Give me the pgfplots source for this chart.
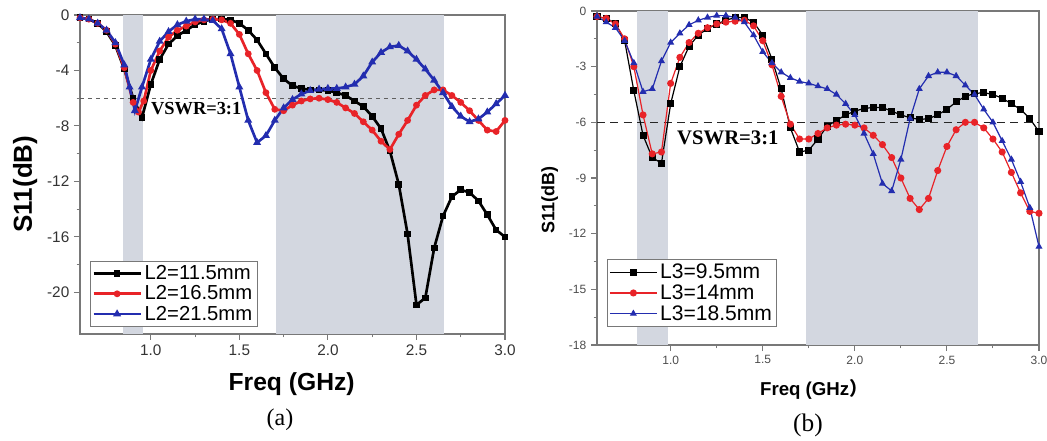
\documentclass[border=0pt]{standalone}
\usepackage{fontspec}
\setmainfont{Liberation Sans}
\newfontfamily\tnr{Liberation Serif}
\newfontfamily\cjk{Noto Sans CJK SC}
\usepackage{pgfplots}
\pgfplotsset{compat=1.18}

\definecolor{band}{RGB}{211,215,224}
\definecolor{cred}{RGB}{232,35,40}
\definecolor{cblue}{RGB}{35,45,175}
\definecolor{axgray}{RGB}{120,120,120}

\pgfplotsset{
  s11/.style={
    scale only axis, xmin=0.6, xmax=3.0,
    axis line style={axgray, line width=0.9pt},
    tick pos=left, tick align=outside,
    major tick length=4.5pt, minor tick length=2.5pt,
    every tick/.style={axgray, line width=0.8pt},
    xtick={1.0,1.5,2.0,2.5,3.0}, minor x tick num=1, minor y tick num=1,
    xticklabel style={/pgf/number format/.cd, fixed, fixed zerofill, precision=1},
    /pgf/number format/assume math mode=true,
    legend cell align=left,
    legend image code/.code={\draw[mark repeat=2,mark phase=2] plot coordinates {(0cm,0cm)(0.62cm,0cm)(1.24cm,0cm)};},
  },
}

\begin{document}
\begin{tikzpicture}
\useasboundingbox (0,0) rectangle (785.25pt,-330.75pt);

% (a)
\begin{axis}[s11,
  at={(60pt,-250.5pt)}, anchor=south west,
  width=318.75pt, height=239.25pt,
  ymin=-23, ymax=0, ytick={-20,-16,-12,-8,-4,0},
  tick label style={font=\fontsize{11.5}{13}\selectfont, color=black!80},
  xlabel={\bfseries Freq (GHz)}, ylabel={\bfseries S11(dB)},
  xlabel style={font=\fontsize{18.5}{20}\selectfont, at={(axis description cs:0.498,-0.157)}, anchor=center},
  ylabel style={font=\fontsize{19.5}{21}\selectfont, at={(axis description cs:-0.129,0.47)}, anchor=center},
  legend style={at={(axis description cs:0.0235,0.022)}, anchor=south west, draw=axgray, fill=white,
    font=\fontsize{15.2}{17}\selectfont, inner sep=1.5pt, row sep=-1pt},
  every axis plot/.append style={line width=2pt, mark size=1.5pt, mark options={solid}},
]
\fill[band] (axis cs:0.84,-23) rectangle (axis cs:0.955,0);
\fill[band] (axis cs:1.705,-23) rectangle (axis cs:2.653,0);
\draw[axgray!80!black, dashed, line width=0.9pt] (axis cs:0.6,-6) -- (axis cs:3.0,-6);
\node[anchor=west, font=\tnr\bfseries\fontsize{13.8}{15}\selectfont, inner sep=0pt] at (axis cs:1.0,-6.75) {VSWR=3:1};

\addplot[black, mark=square*] coordinates {
(0.60,-0.2)(0.65,-0.3)(0.70,-0.6)(0.75,-1.2)(0.80,-2.2)(0.85,-3.9)(0.90,-6.0)(0.95,-7.4)
(1.00,-5.0)(1.05,-3.2)(1.10,-2.1)(1.15,-1.5)(1.20,-1.1)(1.25,-0.7)(1.30,-0.45)(1.35,-0.3)
(1.40,-0.3)(1.45,-0.35)(1.50,-0.6)(1.55,-1.1)(1.60,-1.8)(1.65,-2.8)(1.70,-3.8)(1.75,-4.6)
(1.80,-5.1)(1.85,-5.3)(1.90,-5.4)(1.95,-5.4)(2.00,-5.45)(2.05,-5.6)(2.10,-5.8)(2.15,-6.2)
(2.20,-6.6)(2.25,-7.3)(2.30,-8.2)(2.35,-9.8)(2.40,-12.2)(2.45,-15.8)(2.50,-20.9)(2.55,-20.4)
(2.60,-16.8)(2.65,-14.5)(2.70,-13.1)(2.75,-12.6)(2.80,-12.8)(2.85,-13.4)(2.90,-14.4)(2.95,-15.5)(3.00,-16.0)};
\addlegendentry{L2=11.5mm}
\addplot[cred, mark=*] coordinates {
(0.60,-0.2)(0.65,-0.3)(0.70,-0.6)(0.75,-1.1)(0.80,-2.1)(0.85,-3.8)(0.90,-6.3)(0.93,-7.0)
(0.96,-6.2)(1.00,-4.0)(1.05,-2.6)(1.10,-1.6)(1.15,-1.1)(1.20,-0.8)(1.25,-0.5)(1.30,-0.35)
(1.35,-0.3)(1.40,-0.35)(1.45,-0.6)(1.50,-1.4)(1.55,-2.8)(1.60,-4.0)(1.65,-5.6)(1.70,-6.8)
(1.75,-6.9)(1.80,-6.5)(1.85,-6.2)(1.90,-6.05)(1.95,-6.0)(2.00,-6.1)(2.05,-6.3)(2.10,-6.7)
(2.15,-7.1)(2.20,-7.7)(2.25,-8.3)(2.30,-9.1)(2.35,-9.7)(2.40,-8.6)(2.45,-7.6)(2.50,-6.5)
(2.55,-5.8)(2.60,-5.4)(2.65,-5.4)(2.70,-5.8)(2.75,-6.3)(2.80,-6.9)(2.85,-7.6)(2.90,-8.3)(2.95,-8.4)(3.00,-7.6)};
\addlegendentry{L2=16.5mm}
\addplot[cblue, mark=triangle*] coordinates {
(0.60,-0.2)(0.65,-0.3)(0.70,-0.6)(0.75,-1.1)(0.80,-2.0)(0.85,-3.6)(0.88,-5.2)(0.91,-6.9)
(0.95,-5.2)(1.00,-3.2)(1.05,-1.9)(1.10,-1.2)(1.15,-0.7)(1.20,-0.45)(1.25,-0.3)(1.30,-0.3)
(1.35,-0.4)(1.40,-1.0)(1.45,-2.8)(1.50,-5.2)(1.55,-7.6)(1.60,-9.2)(1.65,-8.7)(1.70,-7.6)
(1.75,-6.7)(1.80,-6.1)(1.85,-5.7)(1.90,-5.45)(1.95,-5.35)(2.00,-5.3)(2.05,-5.3)(2.10,-5.2)
(2.15,-5.0)(2.20,-4.4)(2.25,-3.4)(2.30,-2.7)(2.35,-2.3)(2.40,-2.2)(2.45,-2.6)(2.50,-3.2)
(2.55,-3.9)(2.60,-4.7)(2.65,-5.6)(2.70,-6.6)(2.75,-7.3)(2.80,-7.7)(2.85,-7.5)(2.90,-7.0)(2.95,-6.4)(3.00,-5.8)};
\addlegendentry{L2=21.5mm}
\end{axis}

% (b)
\begin{axis}[s11,
  at={(447.75pt,-258.75pt)}, anchor=south west,
  width=331.5pt, height=250.5pt,
  ymin=-18, ymax=0, ytick={-18,-15,-12,-9,-6,-3,0},
  tick label style={font=\fontsize{9}{10}\selectfont, color=black!70},
  xlabel={\bfseries Freq (GHz{\cjk ）}}, ylabel={\bfseries S11(dB)},
  xlabel style={font=\fontsize{14}{16}\selectfont, at={(axis description cs:0.491,-0.132)}, anchor=center},
  ylabel style={font=\fontsize{13.5}{15}\selectfont, at={(axis description cs:-0.107,0.434)}, anchor=center},
  legend style={at={(axis description cs:0.0226,0.054)}, anchor=south west, draw=axgray, fill=white,
    font=\fontsize{15.8}{18}\selectfont, inner sep=1.5pt, row sep=-1pt},
  every axis plot/.append style={line width=0.9pt, mark size=2.2pt, mark options={solid}},
]
\fill[band] (axis cs:0.817,-18) rectangle (axis cs:0.985,0);
\fill[band] (axis cs:1.733,-18) rectangle (axis cs:2.67,0);
\draw[black!85, dashed, dash pattern=on 6pt off 4pt, line width=0.9pt] (axis cs:0.6,-6) -- (axis cs:3.0,-6);
\node[anchor=west, font=\tnr\bfseries\fontsize{15.5}{17}\selectfont, inner sep=0pt] at (axis cs:1.034,-6.85) {VSWR=3:1};

\addplot[black, mark=square*] coordinates {
(0.60,-0.3)(0.65,-0.4)(0.70,-0.65)(0.75,-1.6)(0.80,-4.3)(0.85,-6.7)(0.90,-7.9)(0.95,-8.2)
(1.00,-5.0)(1.05,-3.0)(1.10,-1.9)(1.15,-1.3)(1.20,-0.95)(1.25,-0.7)(1.30,-0.5)(1.35,-0.35)
(1.40,-0.35)(1.45,-0.6)(1.50,-1.3)(1.55,-2.6)(1.60,-4.2)(1.65,-6.3)(1.70,-7.6)(1.75,-7.5)
(1.80,-6.9)(1.85,-6.2)(1.90,-5.9)(1.95,-5.6)(2.00,-5.4)(2.05,-5.25)(2.10,-5.2)(2.15,-5.2)
(2.20,-5.4)(2.25,-5.6)(2.30,-5.75)(2.35,-5.85)(2.40,-5.8)(2.45,-5.6)(2.50,-5.3)(2.55,-4.9)
(2.60,-4.6)(2.65,-4.45)(2.70,-4.4)(2.75,-4.5)(2.80,-4.7)(2.85,-5.0)(2.90,-5.3)(2.95,-5.8)(3.00,-6.5)};
\addlegendentry{L3=9.5mm}
\addplot[cred, mark=*] coordinates {
(0.60,-0.3)(0.65,-0.4)(0.70,-0.7)(0.75,-1.5)(0.80,-3.0)(0.85,-5.6)(0.90,-7.7)(0.95,-7.6)
(1.00,-3.9)(1.05,-2.5)(1.10,-1.7)(1.15,-1.2)(1.20,-0.9)(1.25,-0.7)(1.30,-0.6)(1.35,-0.55)
(1.40,-0.5)(1.45,-0.8)(1.50,-1.6)(1.55,-2.9)(1.60,-4.6)(1.65,-6.1)(1.70,-6.9)(1.75,-6.9)
(1.80,-6.6)(1.85,-6.3)(1.90,-6.15)(1.95,-6.1)(2.00,-6.15)(2.05,-6.3)(2.10,-6.7)(2.15,-7.2)
(2.20,-7.9)(2.25,-9.0)(2.30,-10.1)(2.35,-10.7)(2.40,-10.1)(2.45,-8.6)(2.50,-7.3)(2.55,-6.4)
(2.60,-6.0)(2.65,-6.0)(2.70,-6.3)(2.75,-6.9)(2.80,-7.6)(2.85,-8.7)(2.90,-9.8)(2.95,-10.8)(3.00,-10.9)};
\addlegendentry{L3=14mm}
\addplot[cblue, mark=triangle*] coordinates {
(0.60,-0.3)(0.65,-0.6)(0.70,-0.9)(0.75,-1.6)(0.80,-2.8)(0.85,-4.35)(0.90,-4.2)(0.95,-2.7)
(1.00,-1.7)(1.05,-1.2)(1.10,-0.75)(1.15,-0.5)(1.20,-0.35)(1.25,-0.25)(1.30,-0.25)(1.35,-0.35)
(1.40,-0.6)(1.45,-1.3)(1.50,-2.2)(1.55,-2.8)(1.60,-3.3)(1.65,-3.6)(1.70,-3.8)(1.75,-3.9)
(1.80,-4.05)(1.85,-4.2)(1.90,-4.5)(1.95,-5.0)(2.00,-5.6)(2.05,-6.6)(2.10,-7.7)(2.15,-9.3)
(2.20,-9.7)(2.25,-8.0)(2.30,-5.8)(2.35,-4.2)(2.40,-3.5)(2.45,-3.3)(2.50,-3.3)(2.55,-3.5)
(2.60,-4.0)(2.65,-4.5)(2.70,-5.3)(2.75,-6.0)(2.80,-7.0)(2.85,-8.0)(2.90,-9.2)(2.95,-10.6)(3.00,-12.7)};
\addlegendentry{L3=18.5mm}
\end{axis}

\node[font=\tnr\fontsize{18}{20}\selectfont] at (210pt,-315pt) {(a)};
\node[font=\tnr\fontsize{19}{21}\selectfont] at (606pt,-318.75pt) {(b)};
\end{tikzpicture}
\end{document}
